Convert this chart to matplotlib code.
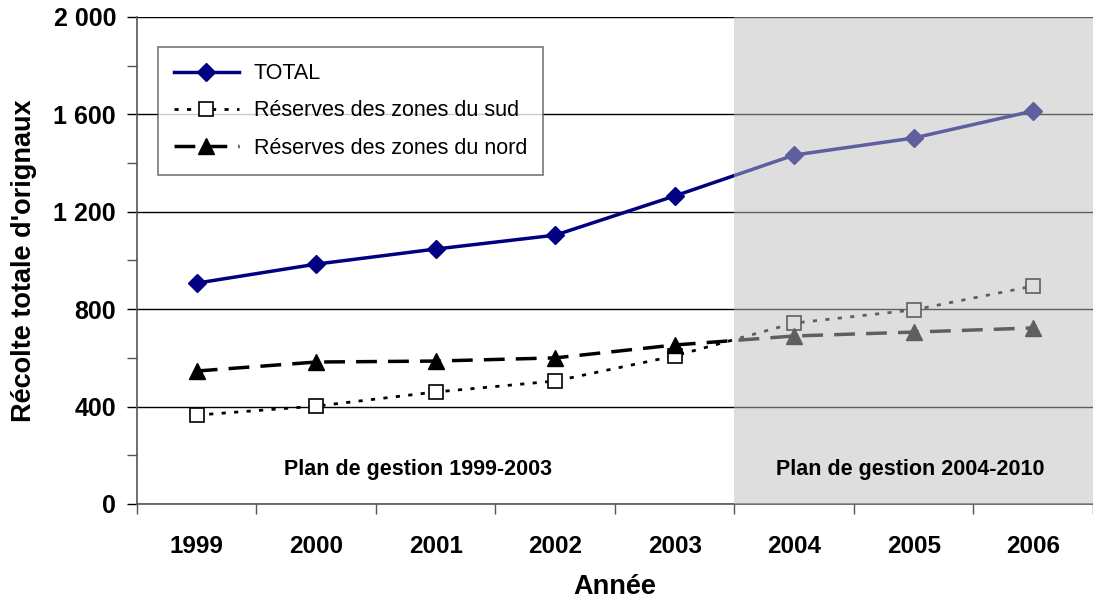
import numpy as np
import matplotlib.pyplot as plt
from matplotlib.patches import Rectangle
from matplotlib.ticker import MultipleLocator, FuncFormatter

plt.rcParams['font.family'] = ['Liberation Sans', 'DejaVu Sans']

years = ['1999', '2000', '2001', '2002', '2003', '2004', '2005', '2006']
total = [907, 985, 1047, 1104, 1265, 1433, 1503, 1614]
sud = [365, 402, 460, 505, 608, 743, 797, 895]
nord = [546, 583, 587, 600, 653, 690, 706, 723]
plan_labels = ['Plan de gestion 1999-2003', 'Plan de gestion 2004-2010']

fig = plt.figure(figsize=(10.93, 6.02), dpi=100)
ax = fig.add_axes([0.1253, 0.1628, 0.8747, 0.809])

x = np.arange(len(years))

ax.plot(x, total, color='#000080', lw=2.5, marker='D', ms=9,
        mfc='#000080', mec='#000080', label='TOTAL', zorder=3)
ax.plot(x, sud, color='black', lw=2, ls=(0, (1.5, 3)), marker='s', ms=10,
        mfc='white', mec='black', mew=1.2, label='Réserves des zones du sud', zorder=3)
ax.plot(x, nord, color='black', lw=2.5, ls=(0, (6, 3.2)), marker='^', ms=11,
        mfc='black', mec='black', label='Réserves des zones du nord', zorder=3)

# grey overlay on the second management plan, drawn over the lines
ax.add_patch(Rectangle((4.5, 0), 3.0, 2000, facecolor='#bebebe', alpha=0.506,
                       edgecolor='none', zorder=4))

ax.set_xlim(-0.5, 7.5)
ax.set_ylim(0, 2000)
ax.set_xticks(x)
ax.set_xticklabels(years)
ax.set_xticks(np.arange(-0.5, 8, 1), minor=True)
ax.tick_params(axis='x', which='major', length=0, pad=22, labelsize=17.5)
ax.tick_params(axis='x', which='minor', length=7, width=1, color='#555555')
for lab in ax.get_xticklabels():
    lab.set_fontweight('bold')

ax.yaxis.set_major_locator(MultipleLocator(400))
ax.yaxis.set_minor_locator(MultipleLocator(200))
ax.yaxis.set_major_formatter(FuncFormatter(lambda v, p: f'{int(v):,}'.replace(',', ' ')))
ax.tick_params(axis='y', which='major', length=7, width=1, labelsize=18, pad=8)
ax.tick_params(axis='y', which='minor', length=7, width=1, color='#555555')
for lab in ax.get_yticklabels():
    lab.set_fontweight('bold')

ax.grid(axis='y', which='major', color='black', lw=1, zorder=1)
ax.set_axisbelow(True)
for s in ['top', 'right']:
    ax.spines[s].set_visible(False)
ax.spines['left'].set_color('#555555')
ax.spines['bottom'].set_color('#555555')
ax.spines['left'].set_linewidth(1.2)
ax.spines['bottom'].set_linewidth(1.2)

ax.set_xlabel('Année', fontsize=19.5, fontweight='bold', labelpad=12)
ax.set_ylabel("Récolte totale d'orignaux", fontsize=19.5, fontweight='bold', labelpad=12)

ax.text(1.85, 140, plan_labels[0], ha='center', va='center', fontsize=15.5,
        fontweight='bold', zorder=5)
ax.text(5.97, 140, plan_labels[1], ha='center', va='center', fontsize=15.5,
        fontweight='bold', zorder=5)

leg = ax.legend(loc='upper left', bbox_to_anchor=(0.022, 0.938), fontsize=15.5,
                frameon=True, fancybox=False, handlelength=3.0, borderpad=0.75,
                labelspacing=0.75, handletextpad=0.7, borderaxespad=0)
leg.get_frame().set_edgecolor('#555555')
leg.get_frame().set_linewidth(1.2)
leg.set_zorder(6)

fig.savefig('out.png', dpi=100)
